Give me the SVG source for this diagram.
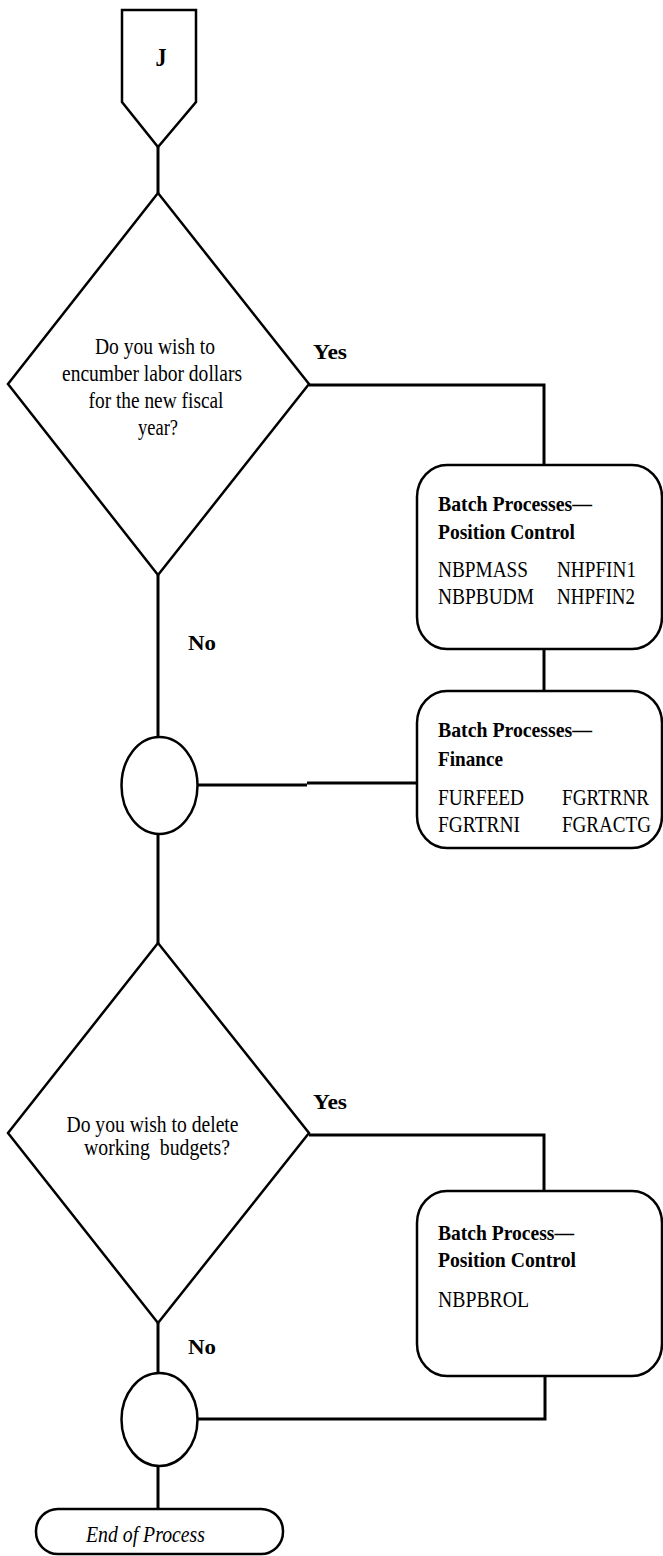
<svg xmlns="http://www.w3.org/2000/svg" width="663" height="1556" viewBox="0 0 663 1556">
<style>
.shape{fill:#fff;stroke:#000;stroke-width:2.5}
.conn{fill:none;stroke:#000;stroke-width:3}
text{font-family:"Liberation Serif","Times New Roman",serif;fill:#000}
.q{font-size:23px;text-anchor:middle}
.b{font-size:21px;font-weight:bold}
.c{font-size:23px}
.lbl{font-size:22px;font-weight:bold}
</style>
<rect width="663" height="1556" fill="#fff"/>
<g id="connectors">
<path class="conn" d="M158,147 V193"/>
<path class="conn" d="M309,385 H544 V465"/>
<path class="conn" d="M544,649 V691"/>
<path class="conn" d="M158,575 V737"/>
<path class="conn" d="M197,785 H307 M307,783 H417"/>
<path class="conn" d="M158,834 V943"/>
<path class="conn" d="M309,1135 H544 V1191"/>
<path class="conn" d="M545,1376 V1419 H197"/>
<path class="conn" d="M158,1323 V1373"/>
<path class="conn" d="M158,1466 V1509"/>
<text class="lbl" x="313" y="359" textLength="34" lengthAdjust="spacingAndGlyphs">Yes</text>
<text class="lbl" x="188" y="650" textLength="28" lengthAdjust="spacingAndGlyphs">No</text>
<text class="lbl" x="313" y="1109" textLength="34" lengthAdjust="spacingAndGlyphs">Yes</text>
<text class="lbl" x="188" y="1354" textLength="28" lengthAdjust="spacingAndGlyphs">No</text>
</g>
<g id="start-J">
<path class="shape" stroke-width="3" d="M122,10 H196 V102 L158,147 L122,102 Z"/>
<text x="161" y="66" font-size="25" font-weight="bold" text-anchor="middle" textLength="11" lengthAdjust="spacingAndGlyphs">J</text>
</g>
<g id="decision-encumber">
<path class="shape" d="M158,193 L309,384 L158,575 L8,384 Z"/>
<text class="q" x="155" y="354" textLength="120" lengthAdjust="spacingAndGlyphs">Do you wish to</text>
<text class="q" x="152" y="381" textLength="180" lengthAdjust="spacingAndGlyphs">encumber labor dollars</text>
<text class="q" x="156" y="408" textLength="135" lengthAdjust="spacingAndGlyphs">for the new fiscal</text>
<text class="q" x="158" y="435" textLength="40" lengthAdjust="spacingAndGlyphs">year?</text>
</g>
<g id="batch-position-control">
<rect class="shape" x="417" y="465" width="245" height="184" rx="30" ry="32"/>
<text class="b" x="438" y="511" textLength="154" lengthAdjust="spacingAndGlyphs">Batch Processes—</text>
<text class="b" x="438" y="539" textLength="137" lengthAdjust="spacingAndGlyphs">Position Control</text>
<text class="c" x="438" y="577" textLength="90" lengthAdjust="spacingAndGlyphs">NBPMASS</text>
<text class="c" x="557" y="577" textLength="79" lengthAdjust="spacingAndGlyphs">NHPFIN1</text>
<text class="c" x="438" y="604" textLength="96" lengthAdjust="spacingAndGlyphs">NBPBUDM</text>
<text class="c" x="557" y="604" textLength="78" lengthAdjust="spacingAndGlyphs">NHPFIN2</text>
</g>
<g id="batch-finance">
<rect class="shape" x="417" y="691" width="245" height="157" rx="30" ry="32"/>
<text class="b" x="438" y="737" textLength="154" lengthAdjust="spacingAndGlyphs">Batch Processes—</text>
<text class="b" x="438" y="766" textLength="65" lengthAdjust="spacingAndGlyphs">Finance</text>
<text class="c" x="438" y="805" textLength="86" lengthAdjust="spacingAndGlyphs">FURFEED</text>
<text class="c" x="562" y="805" textLength="87" lengthAdjust="spacingAndGlyphs">FGRTRNR</text>
<text class="c" x="438" y="832" textLength="82" lengthAdjust="spacingAndGlyphs">FGRTRNI</text>
<text class="c" x="562" y="832" textLength="89" lengthAdjust="spacingAndGlyphs">FGRACTG</text>
</g>
<g id="connector-1">
<ellipse class="shape" cx="159.5" cy="785.5" rx="38" ry="48.5"/>
</g>
<g id="decision-delete">
<path class="shape" d="M158,943 L309,1133 L158,1323 L8,1133 Z"/>
<text class="q" x="152.5" y="1132" textLength="172" lengthAdjust="spacingAndGlyphs">Do you wish to delete</text>
<text class="q" x="157" y="1155" xml:space="preserve" textLength="146" lengthAdjust="spacingAndGlyphs">working  budgets?</text>
</g>
<g id="batch-rollback">
<rect class="shape" x="417" y="1191" width="245" height="185" rx="30" ry="32"/>
<text class="b" x="438" y="1240" textLength="136" lengthAdjust="spacingAndGlyphs">Batch Process—</text>
<text class="b" x="438" y="1267" textLength="138" lengthAdjust="spacingAndGlyphs">Position Control</text>
<text class="c" x="438" y="1307" textLength="91" lengthAdjust="spacingAndGlyphs">NBPBROL</text>
</g>
<g id="connector-2">
<ellipse class="shape" cx="159.5" cy="1419.5" rx="38" ry="46.5"/>
</g>
<g id="end">
<rect class="shape" x="36" y="1509" width="247" height="45" rx="22" ry="22"/>
<text x="86" y="1542" font-size="23" font-style="italic" textLength="119" lengthAdjust="spacingAndGlyphs">End of Process</text>
</g>
</svg>
